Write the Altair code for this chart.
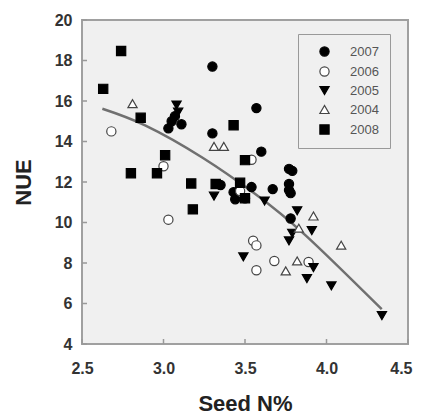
import altair as alt
import pandas as pd

years = ["2007", "2006", "2005", "2004", "2008"]

x2007 = [3.03, 3.05, 3.07, 3.11, 3.30, 3.30, 3.35, 3.43, 3.44, 3.50, 3.54, 3.57, 3.60, 3.67, 3.77, 3.79, 3.77, 3.77, 3.78, 3.78]
y2007 = [14.65, 15.0, 15.25, 14.85, 17.7, 14.4, 11.85, 11.5, 11.15, 11.2, 11.75, 15.65, 13.5, 11.65, 12.65, 12.55, 11.9, 11.6, 11.45, 10.2]

x2006 = [2.68, 3.00, 3.03, 3.47, 3.54, 3.55, 3.57, 3.57, 3.68, 3.89]
y2006 = [14.5, 12.78, 10.14, 11.55, 13.1, 9.1, 8.87, 7.64, 8.1, 8.05]

x2005 = [3.08, 3.09, 3.31, 3.49, 3.62, 3.77, 3.79, 3.82, 3.91, 3.88, 3.92, 4.03, 4.34]
y2005 = [15.8, 15.45, 11.3, 8.3, 11.06, 9.09, 9.47, 10.58, 9.6, 7.23, 7.77, 6.87, 5.4]

x2004 = [2.81, 3.31, 3.37, 3.75, 3.82, 3.83, 3.92, 4.09]
y2004 = [15.87, 13.76, 13.76, 7.61, 8.1, 9.72, 10.32, 8.88]

x2008 = [2.63, 2.74, 2.80, 2.86, 2.96, 3.01, 3.17, 3.18, 3.32, 3.43, 3.47, 3.50, 3.50]
y2008 = [16.6, 18.47, 12.43, 15.17, 12.43, 13.32, 11.93, 10.65, 11.9, 14.8, 11.96, 13.08, 11.2]

trend_x = [2.625, 2.887, 3.24, 3.561, 3.87, 4.339]
trend_y = [15.62, 14.8, 13.2, 11.42, 9.38, 5.72]

xticks = [2.5, 3.0, 3.5, 4.0, 4.5]
yticks = [4, 6, 8, 10, 12, 14, 16, 18, 20]

shapes = ["circle", "circle", "triangle-down", "triangle-up", "square"]
fills = ["#000000", "#ffffff", "#000000", "#ffffff", "#000000"]
strokes = ["#000000", "#444444", "#000000", "#444444", "#000000"]

rows = []
for yr, xs, ys in [("2007", x2007, y2007), ("2006", x2006, y2006), ("2005", x2005, y2005),
                   ("2004", x2004, y2004), ("2008", x2008, y2008)]:
    for a, b in zip(xs, ys):
        rows.append({"year": yr, "seedN": a, "nue": b})
df = pd.DataFrame(rows)
line_df = pd.DataFrame({"seedN": trend_x, "nue": trend_y})
xt_df = pd.DataFrame({"seedN": xticks})
yt_df = pd.DataFrame({"nue": yticks})

W, H = 326, 324
FONT = "Liberation Sans"

xscale = alt.Scale(domain=[2.5, 4.5], nice=False, zero=False)
yscale = alt.Scale(domain=[4, 20], nice=False, zero=False)

xaxis = alt.Axis(values=xticks, format=".1f", title="Seed N%", ticks=False, tickSize=0,
                 domain=False, grid=False, labelPadding=16, labelFlush=False,
                 labelAlign=alt.condition("datum.value >= 4.5", alt.value("right"), alt.value("center")),
                 labelOffset=alt.condition("datum.value >= 4.5", alt.value(4), alt.value(0)),
                 labelFontSize=16, labelFontWeight="bold", labelColor="#333333", labelFont=FONT,
                 titleFontSize=22, titleFontWeight="bold", titleColor="#222222", titleFont=FONT,
                 titlePadding=17)
yaxis = alt.Axis(values=yticks, format="d", title="NUE", ticks=False, tickSize=0,
                 domain=False, grid=False, labelPadding=10,
                 labelFontSize=16, labelFontWeight="bold", labelColor="#333333", labelFont=FONT,
                 titleFontSize=22, titleFontWeight="bold", titleColor="#222222", titleFont=FONT,
                 titlePadding=19)

X = alt.X("seedN:Q", scale=xscale, axis=xaxis)
Y = alt.Y("nue:Q", scale=yscale, axis=yaxis)

leg = alt.Legend(title=None, orient="none", legendX=216, legendY=14)

line = alt.Chart(line_df).mark_line(color="#707070", strokeWidth=2.5, interpolate="natural").encode(
    x=X, y=Y
)

points = alt.Chart(df).mark_point(filled=True, strokeWidth=1.2, opacity=1, size=85).encode(
    x=X, y=Y,
    shape=alt.Shape("year:N", scale=alt.Scale(domain=years, range=shapes), legend=leg),
    fill=alt.Fill("year:N", scale=alt.Scale(domain=years, range=fills), legend=leg),
    stroke=alt.Stroke("year:N", scale=alt.Scale(domain=years, range=strokes), legend=leg),
)

xt = alt.Chart(xt_df).mark_rule(color="#999999", strokeWidth=1.5).encode(
    x=X, y=alt.value(H), y2=alt.value(H - 5)
)
yt = alt.Chart(yt_df).mark_rule(color="#999999", strokeWidth=1.5).encode(
    y=Y, x=alt.value(0), x2=alt.value(5)
)

chart = alt.layer(line, points, xt, yt).properties(
    width=W, height=H,
    padding={"left": 74, "top": 12, "right": 5, "bottom": 72},
    autosize=alt.AutoSizeParams(type="none"),
    background="#ffffff",
).configure_view(
    stroke="#a0a0a0", strokeWidth=2, fill="#f0f0f0"
).configure_legend(
    strokeColor="#999999", fillColor="#f0f0f0", padding=11, symbolOffset=9, labelOffset=19,
    rowPadding=5, labelFontSize=13, labelColor="#555555", labelFont=FONT,
    symbolSize=85, symbolStrokeWidth=1.2
)

chart.save("out.html", embed_options={"renderer": "svg", "actions": False})
